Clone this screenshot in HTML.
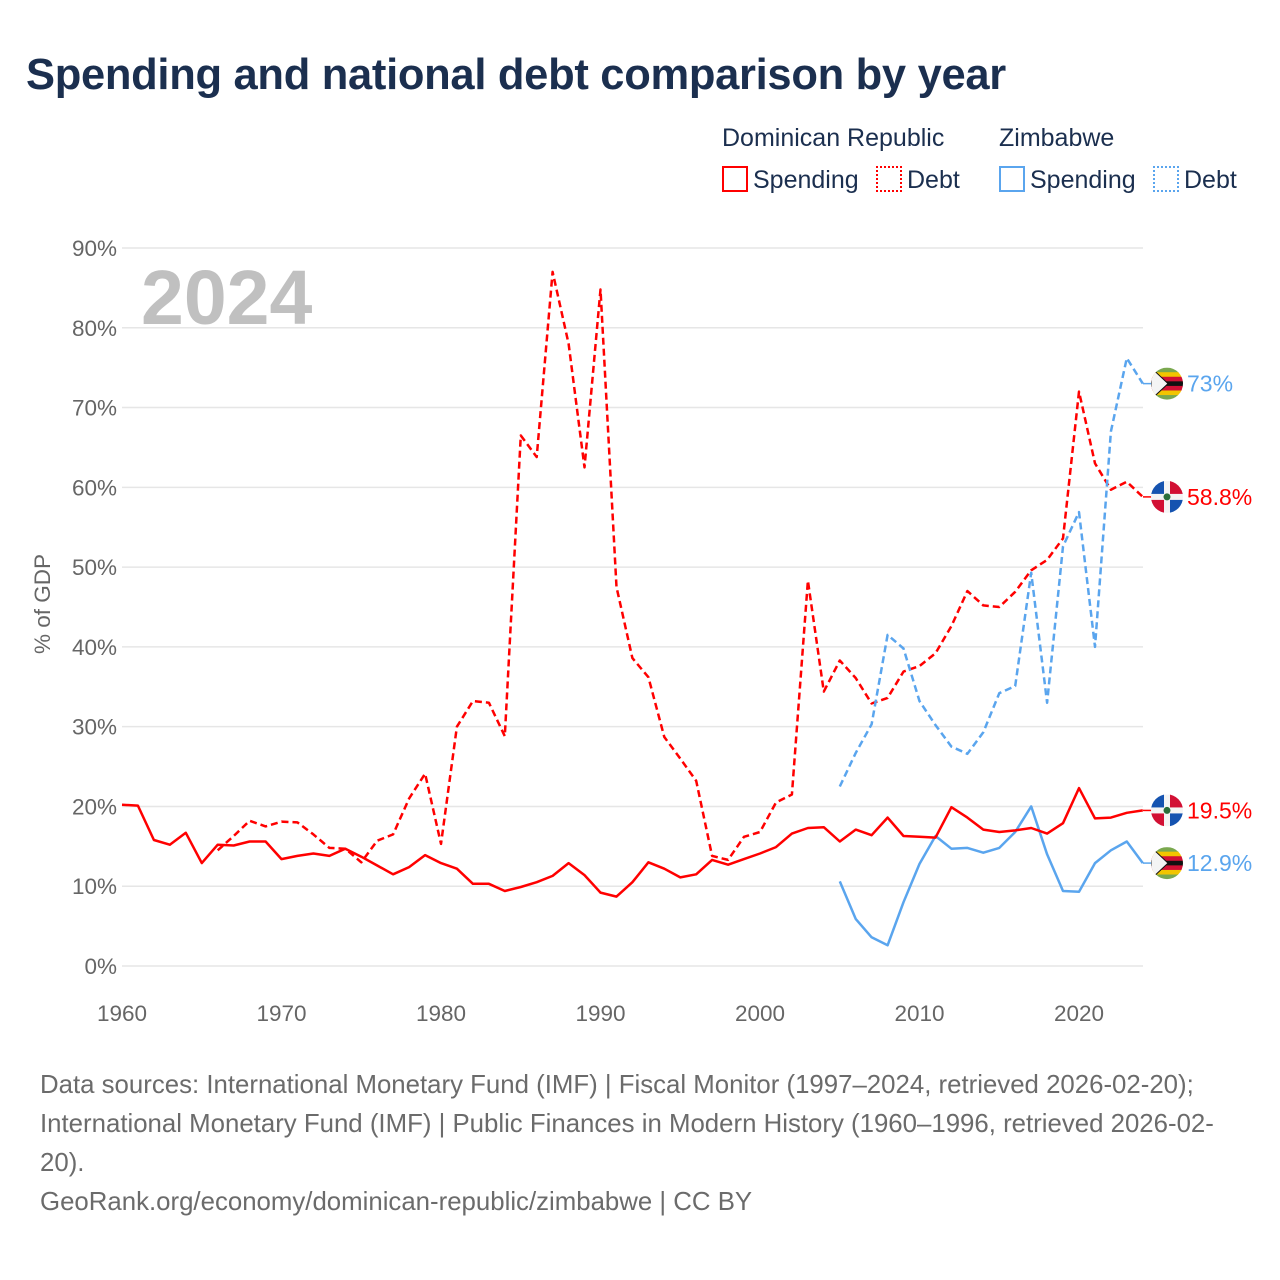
<!DOCTYPE html>
<html><head><meta charset="utf-8"><style>
body{margin:0;background:#fff;font-family:"Liberation Sans",sans-serif;}
#wrap{position:relative;width:1280px;height:1280px;overflow:hidden}
.t{position:absolute;white-space:nowrap}
</style></head><body>
<div id="wrap">
<div class="t" style="left:26px;top:51px;font-size:43.5px;font-weight:bold;color:#1b2f4f;letter-spacing:-0.3px">Spending and national debt comparison by year</div>
<div class="t" style="left:722px;top:124px;font-size:25px;color:#1b2f4f">Dominican Republic</div>
<div class="t" style="left:999px;top:124px;font-size:25px;color:#1b2f4f">Zimbabwe</div>
<div class="t" style="left:722px;top:166px;font-size:25px;color:#1b2f4f"><span style="display:inline-block;width:26px;height:26px;border:2px solid #f00;box-sizing:border-box;vertical-align:-4px;margin-right:5px"></span>Spending</div>
<div class="t" style="left:876px;top:166px;font-size:25px;color:#1b2f4f"><span style="display:inline-block;width:26px;height:26px;border:2px dotted #f00;box-sizing:border-box;vertical-align:-4px;margin-right:5px"></span>Debt</div>
<div class="t" style="left:999px;top:166px;font-size:25px;color:#1b2f4f"><span style="display:inline-block;width:26px;height:26px;border:2px solid #5aa5ee;box-sizing:border-box;vertical-align:-4px;margin-right:5px"></span>Spending</div>
<div class="t" style="left:1153px;top:166px;font-size:25px;color:#1b2f4f"><span style="display:inline-block;width:26px;height:26px;border:2px dotted #5aa5ee;box-sizing:border-box;vertical-align:-4px;margin-right:5px"></span>Debt</div>
<svg id="chart" width="1280" height="1280" style="position:absolute;left:0;top:0"></svg>
<div class="t" style="left:40px;top:1066px;font-size:25.8px;line-height:39px;color:#6b6b6b">Data sources: International Monetary Fund (IMF) | Fiscal Monitor (1997–2024, retrieved 2026-02-20);<br>International Monetary Fund (IMF) | Public Finances in Modern History (1960–1996, retrieved 2026-02-<br>20).<br>GeoRank.org/economy/dominican-republic/zimbabwe | CC BY</div>
</div>
<script>
const drSpendStart=1960;
const drSpend=[20.2,20.1,15.8,15.2,16.7,12.9,15.2,15.1,15.6,15.6,13.4,13.8,14.1,13.8,14.7,13.7,12.6,11.5,12.4,13.9,12.9,12.2,10.3,10.3,9.4,9.9,10.5,11.3,12.9,11.4,9.2,8.7,10.5,13.0,12.2,11.1,11.5,13.3,12.7,13.4,14.1,14.9,16.6,17.3,17.4,15.6,17.1,16.4,18.6,16.3,16.2,16.1,19.9,18.6,17.1,16.8,17.0,17.3,16.6,17.9,22.3,18.5,18.6,19.2,19.5];
const drDebtStart=1966;
const drDebt=[14.5,16.3,18.2,17.5,18.1,18.0,16.5,14.8,14.7,13.0,15.7,16.5,21.0,24.1,15.3,30.0,33.2,33.0,28.8,66.5,63.8,87.0,78.0,62.5,84.8,47.5,38.6,36.2,28.7,26.0,23.2,13.8,13.3,16.2,16.8,20.5,21.5,48.3,34.4,38.3,36.1,32.9,33.6,36.9,37.6,39.2,42.6,47.0,45.2,45.0,46.9,49.6,50.9,53.6,72.0,63.0,59.7,60.7,58.8];
const zwStart=2005;
const zwSpend=[10.6,5.9,3.6,2.6,8.0,12.8,16.3,14.7,14.8,14.2,14.8,16.8,20.0,14.0,9.4,9.3,12.9,14.5,15.6,12.9];
const zwDebt=[22.5,26.7,30.3,41.5,39.8,33.2,30.2,27.5,26.6,29.3,34.2,35.1,49.3,33.0,52.6,56.9,40.0,67.0,76.2,73.0];
const yTicks=[0,10,20,30,40,50,60,70,80,90];
const xTicks=[1960,1970,1980,1990,2000,2010,2020];
const NS='http://www.w3.org/2000/svg';
const svg=document.getElementById('chart');
const X=y=>122+(y-1960)*(1079-122)/60;
const Y=v=>966-v*(966-248)/90;
function mk(t,a){const e=document.createElementNS(NS,t);for(const k in a)e.setAttribute(k,a[k]);svg.appendChild(e);return e;}
yTicks.forEach(v=>{
 const l=mk('line',{x1:122,x2:1143,y1:Y(v),y2:Y(v),stroke:'#e6e6e6','stroke-width':1.5});
 
 
 const t=mk('text',{x:117,y:Y(v)+8,'text-anchor':'end','font-size':22.5,fill:'#666','font-family':'Liberation Sans, sans-serif'});
 t.textContent=v+'%';
 
 
});
xTicks.forEach(y=>{
 const t=mk('text',{x:X(y),y:1021,'text-anchor':'middle','font-size':22.5,fill:'#666','font-family':'Liberation Sans, sans-serif'});
 t.textContent=y;
 
 
});
const yt=mk('text',{transform:'translate(50,604) rotate(-90)','text-anchor':'middle','font-size':22.5,fill:'#666','font-family':'Liberation Sans, sans-serif'});
yt.textContent='% of GDP';


const yr=mk('text',{x:141,y:324,'font-size':77,'font-weight':'bold',fill:'#c0c0c0','font-family':'Liberation Sans, sans-serif'});
yr.textContent='2024';


function series(start,vals,color,dash,name){
 const pts=vals.map((v,i)=>X(start+i).toFixed(1)+','+Y(v).toFixed(1)).join(' ');
 const p=mk('polyline',{points:pts,fill:'none',stroke:color,'stroke-width':2.5,'stroke-linejoin':'round'});
 if(dash)p.setAttribute('stroke-dasharray','7,4');
 
 
}
series(drDebtStart,drDebt,'#ff0000',true,'dr-debt-line');
series(zwStart,zwDebt,'#5aa5ee',true,'zw-debt-line');
series(zwStart,zwSpend,'#5aa5ee',false,'zw-spending-line');
series(drSpendStart,drSpend,'#ff0000',false,'dr-spending-line');
function flag(v,kind,color,label,name,dy){
 const cy=Y(v)+(dy||0),cx=1167,R=16;
 mk('line',{x1:1143,x2:1152,y1:Y(v),y2:cy,stroke:color,'stroke-width':1.5});
 const g=document.createElementNS(NS,'g');svg.appendChild(g);
 
 
 const c=(t,a)=>{const e=document.createElementNS(NS,t);for(const k in a)e.setAttribute(k,a[k]);g.appendChild(e);return e;};
 const id='cl'+name;
 const cp=document.createElementNS(NS,'clipPath');cp.setAttribute('id',id);const cc=document.createElementNS(NS,'circle');cc.setAttribute('cx',cx);cc.setAttribute('cy',cy);cc.setAttribute('r',R);cp.appendChild(cc);g.appendChild(cp);
 const gg=c('g',{'clip-path':'url(#'+id+')'});
 const r=(x,y,w,h,f)=>{const e=document.createElementNS(NS,'rect');e.setAttribute('x',x);e.setAttribute('y',y);e.setAttribute('width',w);e.setAttribute('height',h);e.setAttribute('fill',f);gg.appendChild(e);};
 if(kind==='dr'){
  r(cx-R,cy-R,2*R,2*R,'#f4f4f4');r(cx-R,cy-R,R-3,R-3,'#1553b0');r(cx+3,cy-R,R-3,R-3,'#d21034');r(cx-R,cy+3,R-3,R-3,'#d21034');r(cx+3,cy+3,R-3,R-3,'#1553b0');
  const d=document.createElementNS(NS,'circle');d.setAttribute('cx',cx);d.setAttribute('cy',cy);d.setAttribute('r',3.5);d.setAttribute('fill','#2a6e3a');gg.appendChild(d);
 }else{
  const cols=['#7aa84f','#f2c500','#d21034','#111','#d21034','#f2c500','#7aa84f'];
  cols.forEach((f,i)=>r(cx-R,cy-R+i*2*R/7,2*R,2*R/7+0.5,f));
  const t=document.createElementNS(NS,'polygon');t.setAttribute('points',(cx-R)+','+(cy-R)+' '+(cx+1)+','+cy+' '+(cx-R)+','+(cy+R));t.setAttribute('fill','#f4f4f4');t.setAttribute('stroke','#111');t.setAttribute('stroke-width','1');gg.appendChild(t);
 }
 const t=mk('text',{x:1187,y:cy+8,'font-size':23,fill:color,'font-family':'Liberation Sans, sans-serif'});
 t.textContent=label;
 
 
}
flag(zwDebt[zwDebt.length-1],'zw','#5aa5ee',zwDebt[zwDebt.length-1]+'%','zw-debt-end');
flag(drDebt[drDebt.length-1],'dr','#ff0000',drDebt[drDebt.length-1]+'%','dr-debt-end');
flag(drSpend[drSpend.length-1],'dr','#ff0000',drSpend[drSpend.length-1]+'%','dr-spending-end');
flag(zwSpend[zwSpend.length-1],'zw','#5aa5ee',zwSpend[zwSpend.length-1]+'%','zw-spending-end');
</script>
</body></html>
